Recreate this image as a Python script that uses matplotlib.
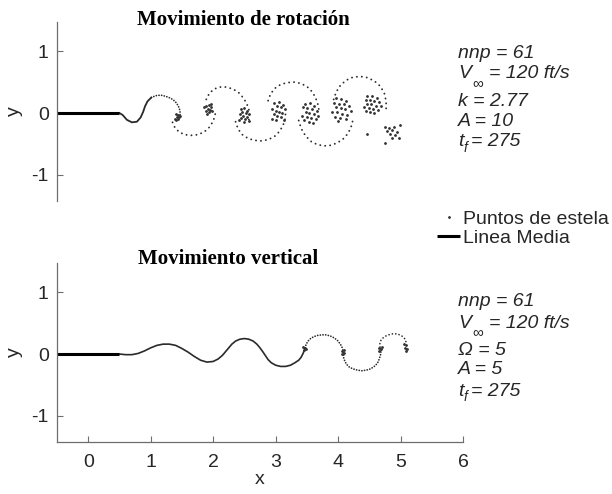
import matplotlib
matplotlib.use("Agg")
import matplotlib.pyplot as plt

plt.rcParams['font.family'] = ['Liberation Sans', 'DejaVu Sans']

# ---------------- data ----------------
chord_x = [-0.5, 0.5]
chord_y = [0.0, 0.0]

# --- rotation (top) wake ---
rot_line_x = [0.50, 0.55, 0.62, 0.70, 0.78, 0.84, 0.88, 0.91, 0.95, 1.01]
rot_line_y = [0.00, -0.03, -0.11, -0.15, -0.14, -0.07, 0.02, 0.11, 0.19, 0.25]
rot_u1_x = [1.01, 1.08, 1.16, 1.24, 1.32, 1.39, 1.44, 1.47, 1.47]
rot_u1_y = [0.25, 0.28, 0.29, 0.27, 0.24, 0.19, 0.12, 0.04, -0.03]
rot_l1_x = [1.35, 1.39, 1.46, 1.55, 1.65, 1.75, 1.85, 1.93, 1.99, 2.03, 2.04]
rot_l1_y = [-0.15, -0.24, -0.31, -0.35, -0.36, -0.35, -0.31, -0.24, -0.15, -0.05, 0.06]
rot_u2_x = [1.89, 1.94, 2.02, 2.11, 2.21, 2.31, 2.40, 2.47, 2.53, 2.57, 2.58, 2.57]
rot_u2_y = [0.22, 0.32, 0.39, 0.42, 0.42, 0.39, 0.34, 0.26, 0.17, 0.07, -0.03, -0.13]
rot_l2_x = [2.36, 2.40, 2.47, 2.56, 2.66, 2.77, 2.88, 2.98, 3.06, 3.12, 3.15, 3.16]
rot_l2_y = [-0.14, -0.26, -0.35, -0.41, -0.44, -0.45, -0.43, -0.38, -0.30, -0.20, -0.10, 0.00]
rot_u3_x = [2.88, 2.92, 2.99, 3.08, 3.18, 3.29, 3.40, 3.50, 3.58, 3.64, 3.68, 3.70]
rot_u3_y = [0.20, 0.31, 0.40, 0.46, 0.49, 0.50, 0.48, 0.43, 0.35, 0.25, 0.13, 0.01]
rot_l3_x = [3.37, 3.41, 3.48, 3.57, 3.67, 3.78, 3.89, 3.99, 4.08, 4.15, 4.20, 4.23, 4.24]
rot_l3_y = [-0.12, -0.25, -0.37, -0.46, -0.51, -0.53, -0.52, -0.48, -0.42, -0.34, -0.25, -0.15, -0.06]
rot_u4_x = [3.93, 3.97, 4.04, 4.13, 4.24, 4.36, 4.48, 4.59, 4.68, 4.74, 4.77, 4.77]
rot_u4_y = [0.22, 0.34, 0.45, 0.53, 0.58, 0.59, 0.57, 0.51, 0.43, 0.32, 0.19, 0.06]

# vortex-core point clusters (top)
rot_pts_x = [1.40, 1.44, 1.42, 1.46, 1.39, 1.44, 1.41, 1.47,
             1.89, 1.93, 1.96, 1.91, 1.95, 1.88, 1.93, 1.98, 1.90, 1.96, 1.86,
             2.44, 2.50, 2.55, 2.47, 2.52, 2.43, 2.58, 2.48, 2.54, 2.45, 2.51, 2.41, 2.57, 2.49,
             2.98, 3.06, 3.12, 3.02, 3.08, 2.95, 3.15, 3.00, 3.05, 3.11, 2.97, 3.03, 3.09, 2.94, 3.14, 3.01,
             3.47, 3.55, 3.62, 3.44, 3.51, 3.58, 3.66, 3.48, 3.54, 3.61, 3.42, 3.50, 3.57, 3.64, 3.46, 3.53, 3.60, 3.68,
             3.97, 4.05, 4.13, 3.93, 4.01, 4.09, 4.18, 3.96, 4.04, 4.11, 4.21, 3.91, 3.99, 4.07, 4.15, 3.95, 4.03, 4.12, 4.00,
             4.47, 4.55, 4.62, 4.44, 4.51, 4.58, 4.66, 4.46, 4.53, 4.60, 4.42, 4.49, 4.56, 4.64, 4.51, 4.58, 4.45, 4.68,
             4.75, 4.82, 4.90, 4.99, 4.79, 4.87, 4.95, 4.83, 4.91, 4.86, 4.97, 4.75, 4.46]
rot_pts_y = [-0.02, -0.03, -0.06, -0.07, -0.09, -0.10, -0.12, -0.04,
             0.12, 0.13, 0.10, 0.07, 0.05, 0.03, 0.01, 0.03, -0.01, 0.14, 0.09,
             0.06, 0.08, 0.04, 0.02, 0.00, -0.01, -0.02, -0.04, -0.06, -0.08, -0.10, -0.12, -0.13, -0.15,
             0.16, 0.18, 0.13, 0.11, 0.09, 0.07, 0.06, 0.04, 0.02, 0.00, -0.02, -0.05, -0.07, -0.09, -0.11, -0.12,
             0.15, 0.16, 0.12, 0.09, 0.08, 0.06, 0.04, 0.02, 0.00, -0.02, -0.04, -0.06, -0.08, -0.10, -0.12, -0.14, -0.16, -0.05,
             0.24, 0.22, 0.20, 0.16, 0.15, 0.14, 0.12, 0.09, 0.08, 0.06, 0.04, 0.02, 0.01, -0.01, -0.03, -0.06, -0.08, -0.10, -0.13,
             0.27, 0.28, 0.25, 0.21, 0.21, 0.19, 0.18, 0.15, 0.14, 0.12, 0.10, 0.08, 0.06, 0.05, 0.02, 0.00, 0.04, 0.11,
             -0.22, -0.24, -0.22, -0.20, -0.29, -0.28, -0.30, -0.34, -0.36, -0.40, -0.41, -0.49, -0.34]

# --- vertical (bottom) wake ---
ver_line_x = [0.50, 0.60, 0.70, 0.80, 0.90, 1.00, 1.10, 1.20, 1.30, 1.40, 1.50, 1.60, 1.70, 1.80,
              1.90, 2.00, 2.08, 2.15, 2.20, 2.25, 2.30, 2.36, 2.43, 2.50, 2.57, 2.64, 2.70, 2.75,
              2.80, 2.84, 2.88, 2.93, 3.00, 3.08, 3.16, 3.24, 3.31, 3.37, 3.41, 3.44, 3.46, 3.47]
ver_line_y = [0.00, -0.01, -0.01, 0.01, 0.05, 0.10, 0.14, 0.16, 0.16, 0.14, 0.09, 0.03, -0.04, -0.10,
              -0.13, -0.12, -0.08, -0.02, 0.04, 0.10, 0.16, 0.21, 0.24, 0.25, 0.24, 0.21, 0.16, 0.10,
              0.03, -0.03, -0.09, -0.14, -0.18, -0.20, -0.20, -0.18, -0.14, -0.10, -0.05, 0.01, 0.06, 0.10]
ver_dense_x = [3.47, 3.49, 3.52, 3.56, 3.61, 3.67, 3.74, 3.81, 3.88, 3.94, 3.99, 4.03, 4.06, 4.08,
               4.09, 4.09, 4.11, 4.14, 4.18, 4.24, 4.31, 4.38, 4.45, 4.52, 4.58, 4.63, 4.66, 4.68, 4.69]
ver_dense_y = [0.10, 0.16, 0.21, 0.25, 0.28, 0.30, 0.31, 0.31, 0.29, 0.26, 0.22, 0.17, 0.12, 0.06,
               0.00, -0.06, -0.12, -0.17, -0.21, -0.24, -0.26, -0.27, -0.26, -0.24, -0.20, -0.15, -0.08, -0.01, 0.06]
ver_tail_x = [4.69, 4.67, 4.67, 4.69, 4.73, 4.78, 4.84, 4.90, 4.96, 5.01, 5.05, 5.08, 5.09]
ver_tail_y = [0.06, 0.12, 0.18, 0.23, 0.27, 0.30, 0.32, 0.33, 0.32, 0.30, 0.27, 0.23, 0.18]
ver_pts_x = [3.44, 3.47, 3.45, 3.49, 4.06, 4.09, 4.07, 4.10, 4.65, 4.69, 4.66, 4.70,
             5.06, 5.09, 5.07, 5.10, 5.08]
ver_pts_y = [0.12, 0.10, 0.07, 0.08, 0.05, 0.02, 0.00, 0.06, 0.10, 0.08, 0.05, 0.11,
             0.17, 0.14, 0.10, 0.08, 0.05]

ytick_vals = [-1, 0, 1]
xtick_vals = [0, 1, 2, 3, 4, 5, 6]

# ---------------- figure ----------------
W, H = 612, 494
fig = plt.figure(figsize=(W / 100, H / 100), dpi=100)


def fx(p):
    return p / W


def fy(p):
    return 1 - p / H


ax1 = fig.add_axes([0.0931, 0.5931, 0.6634, 0.3624])
ax2 = fig.add_axes([0.0931, 0.1053, 0.6634, 0.3623])

wake_col = '#2a2a2a'
dot_sparse = dict(color=wake_col, lw=1.35, linestyle=(0, (0.05, 2.6)), dash_capstyle='round')
dot_dense = dict(color=wake_col, lw=1.25, linestyle=(0, (0.05, 1.5)), dash_capstyle='round')

# top panel
ax1.plot(rot_line_x, rot_line_y, color=wake_col, lw=1.3)
ax1.plot(rot_u1_x, rot_u1_y, **dot_dense)
for sx, sy in [(rot_l1_x, rot_l1_y), (rot_u2_x, rot_u2_y), (rot_l2_x, rot_l2_y),
               (rot_u3_x, rot_u3_y), (rot_l3_x, rot_l3_y), (rot_u4_x, rot_u4_y)]:
    ax1.plot(sx, sy, **dot_sparse)
pts_handle, = ax1.plot(rot_pts_x, rot_pts_y, ls='none', marker='.', ms=2.0, color='#333333')
chord_handle, = ax1.plot(chord_x, chord_y, color='black', lw=2.2, solid_capstyle='butt')

# bottom panel
ax2.plot(ver_line_x, ver_line_y, color=wake_col, lw=1.2)
ax2.plot(ver_dense_x, ver_dense_y, **dot_dense)
ax2.plot(ver_tail_x, ver_tail_y, color=wake_col, lw=1.2, linestyle=(0, (0.05, 2.0)), dash_capstyle='round')
ax2.plot(ver_pts_x, ver_pts_y, ls='none', marker='.', ms=2.0, color='#333333')
ax2.plot(chord_x, chord_y, color='black', lw=2.2, solid_capstyle='butt')

spine_col = '#6e6e6e'
lab_col = '#262626'
for ax in (ax1, ax2):
    ax.set_xlim(-0.5, 6)
    ax.set_ylim(-1.42, 1.47)
    ax.set_facecolor('none')
    for s in ('top', 'right'):
        ax.spines[s].set_visible(False)
    for s in ('left', 'bottom'):
        ax.spines[s].set_color(spine_col)
        ax.spines[s].set_linewidth(0.9)
    ax.set_yticks(ytick_vals)
    ax.set_yticklabels([str(v) for v in ytick_vals])
    ax.tick_params(axis='y', direction='in', length=4, width=0.8, color=spine_col,
                   labelsize=14, labelcolor=lab_col, pad=6)
    ax.set_ylabel('y', fontsize=14, color=lab_col, labelpad=6)

ax1.spines['bottom'].set_visible(False)
ax1.set_xticks([])

ax2.set_xticks(xtick_vals)
ax2.set_xticklabels([str(v) for v in xtick_vals])
ax2.tick_params(axis='x', direction='in', length=4, width=0.8, color=spine_col,
                labelsize=14, labelcolor=lab_col, pad=9)
ax2.set_xlabel('x', fontsize=14, color=lab_col, labelpad=0)

# titles
title_font = dict(family=['Liberation Serif', 'DejaVu Serif'], weight='bold', size=15, color='black')
fig.text(fx(243), fy(20), 'Movimiento de rotación', ha='center', va='center', **title_font)
fig.text(fx(228), fy(259), 'Movimiento vertical', ha='center', va='center', **title_font)

# annotations
ann = dict(fontsize=14, style='italic', color=lab_col, va='center', ha='left')


def block(y0, third, a_val):
    fig.text(fx(458), fy(y0), 'nnp = 61', **ann)
    fig.text(fx(458), fy(y0 + 21), 'V', **ann)
    fig.text(fx(472), fy(y0 + 30), '∞', fontsize=11, color=lab_col, va='center', ha='left')
    fig.text(fx(489), fy(y0 + 21), '= 120 ft/s', **ann)
    fig.text(fx(458), fy(y0 + 48), third, **ann)
    fig.text(fx(458), fy(y0 + 68), 'A = ' + a_val, **ann)
    fig.text(fx(458), fy(y0 + 89), 't', **ann)
    fig.text(fx(464), fy(y0 + 95), 'f', fontsize=10, style='italic', color=lab_col, va='center', ha='left')
    fig.text(fx(471), fy(y0 + 89), '= 275', **ann)


block(53, 'k = 2.77', '10')
block(302, 'Ω = 5', '5')

# legend
fig.legend(handles=[pts_handle, chord_handle], labels=['Puntos de estela', 'Linea Media'],
           loc='upper left', bbox_to_anchor=(fx(437), fy(210)), frameon=False, fontsize=14,
           handlelength=1.2, handletextpad=0.15, labelspacing=0.1, borderpad=0,
           borderaxespad=0, markerscale=1.0, labelcolor=lab_col)

fig.savefig('out.png', dpi=100)
